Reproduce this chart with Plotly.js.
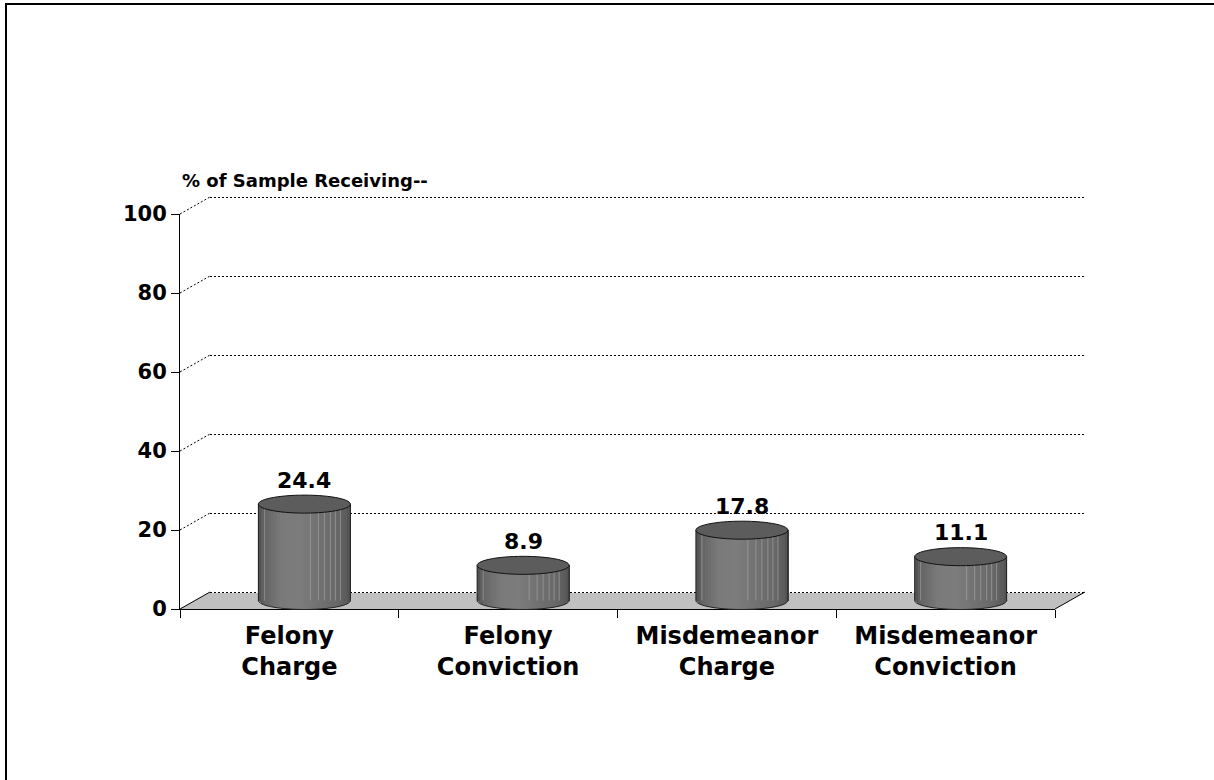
<!DOCTYPE html>
<html><head><meta charset="utf-8">
<script src="https://cdn.plot.ly/plotly-3.0.1.min.js"></script>
<style>html,body{margin:0;padding:0;background:#fff;}#chart{width:1214px;height:780px;}</style>
</head><body><div id="chart"></div>
<script>
// ---- data ----
const categories = ['Felony<br>Charge', 'Felony<br>Conviction', 'Misdemeanor<br>Charge', 'Misdemeanor<br>Conviction'];
const values = [24.4, 8.9, 17.8, 11.1];
const yTicks = [0, 20, 40, 60, 80, 100];
const yTitle = '% of Sample Receiving--';

// ---- geometry (style) ----
const W = 1214, H = 780;
const FX0 = 180, FX1 = 1055, FY0 = 609, FY1 = 214;   // front plane in px
const DX = 30, DY = 17;                               // depth offset in px
const PPX = (FX1 - FX0) / 4, PPY = (FY0 - FY1) / 100;
const fx = px => px / W, fy = py => (H - py) / H;
const RX = 46, RY = 9, NS = 30;
const FONT = 'DejaVu Sans';

// back wall axis (x2/y2), range padded so edge gridlines are drawn
const y2r = [-0.5, 100.5];
const y2dom = [fy(FY0 - DY - y2r[0] * PPY), fy(FY0 - DY - y2r[1] * PPY)];
// mid-plane axis (x3/y3) with extended ranges so pixel shapes are not clipped
const MX0 = FX0 + DX / 2, MY0 = FY0 - DY / 2;
const x3r = [-0.8, 3.8], y3r = [-10, 110];
const x3dom = [fx(MX0 + (x3r[0] + 0.5) * PPX), fx(MX0 + (x3r[1] + 0.5) * PPX)];
const y3dom = [fy(MY0 - y3r[0] * PPY), fy(MY0 - y3r[1] * PPY)];

function shade(t) {
  const pts = [[0, 78], [0.07, 100], [0.25, 122], [0.45, 124], [0.65, 113], [0.85, 104], [0.95, 92], [1, 80]];
  let g = 80;
  for (let k = 0; k < pts.length - 1; k++) {
    if (t >= pts[k][0] && t <= pts[k + 1][0]) {
      const u = (t - pts[k][0]) / (pts[k + 1][0] - pts[k][0]);
      g = pts[k][1] + u * (pts[k + 1][1] - pts[k][1]); break;
    }
  }
  g = Math.round(g);
  return `rgb(${g},${g},${g})`;
}
const ell = x => RY * Math.sqrt(Math.max(0, 1 - (x / RX) * (x / RX)));

const traces = [];
// invisible traces to define the front and back subplots
traces.push({type: 'scatter', x: categories, y: values, mode: 'markers', marker: {opacity: 0},
  hoverinfo: 'skip', showlegend: false, xaxis: 'x', yaxis: 'y'});
traces.push({type: 'scatter', x: [0], y: [0], mode: 'markers', marker: {opacity: 0},
  hoverinfo: 'skip', showlegend: false, xaxis: 'x2', yaxis: 'y2'});

const shapes = [];
const xIdx = values.map((v, i) => i);
const sw = 2 * RX / NS;
// floor
shapes.push({type: 'path', xref: 'x3', yref: 'y3', xsizemode: 'pixel', ysizemode: 'pixel',
  xanchor: -0.5, yanchor: 0, layer: 'below',
  path: `M${-DX/2},${-DY/2} L${FX1-FX0-DX/2},${-DY/2} L${FX1-FX0+DX/2-2},${DY/2-1} L${DX/2-2},${DY/2-1} Z`,
  fillcolor: '#c0c0c0', line: {width: 0}});
// floor right edge
shapes.push({type: 'path', xref: 'x3', yref: 'y3', xsizemode: 'pixel', ysizemode: 'pixel',
  xanchor: -0.5, yanchor: 0, path: `M${FX1-FX0-DX/2},${-DY/2} L${FX1-FX0+DX/2},${DY/2}`,
  line: {color: '#000', width: 1}});
// left wall connectors
yTicks.forEach(v => {
  shapes.push({type: 'path', xref: 'x3', yref: 'y3', xsizemode: 'pixel', ysizemode: 'pixel',
    xanchor: -0.5, yanchor: v, path: `M${-DX/2},${-DY/2} L${DX/2},${DY/2}`,
    line: {color: '#000', width: 1, dash: v === 0 ? 'solid' : '2px,2px'}});
});

// cylinder bodies: vertical strips as bars
for (let s = 0; s < NS; s++) {
  const xa = -RX + s * sw;
  const col = shade((s + 0.5) / NS);
  traces.push({type: 'bar', x: xIdx, y: values, base: 0, xaxis: 'x3', yaxis: 'y3',
    width: (sw + 0.8) / PPX, offset: xa / PPX,
    marker: {color: col, line: {width: 0}}, hoverinfo: 'skip', showlegend: false});
  values.forEach((v, i) => {
    const xb = xa + sw;
    shapes.push({type: 'path', xref: 'x3', yref: 'y3', xsizemode: 'pixel', ysizemode: 'pixel',
      xanchor: i, yanchor: 0,
      path: `M${xa},0.5 L${xb + 0.7},0.5 L${xb + 0.7},${-ell(Math.min(xb, RX))} L${xa},${-ell(xa)} Z`,
      fillcolor: col, line: {width: 0}});
  });
}
// light stripes
const stripePos = [-40, 6, 14, 20, 26, 31, 36];
values.forEach((v, i) => {
  stripePos.forEach(p => {
    shapes.push({type: 'line', xref: 'x3', yref: 'y3', xsizemode: 'pixel', ysizemode: 'scaled',
      xanchor: i, x0: p, x1: p, y0: 0, y1: v, line: {color: 'rgba(170,170,170,0.6)', width: 1}});
  });
  // bottom arc outline
  let arc = '';
  for (let k = 0; k <= 40; k++) {
    const a = Math.PI + Math.PI * k / 40;
    arc += (k === 0 ? 'M' : 'L') + (RX * Math.cos(a)).toFixed(2) + ',' + (RY * Math.sin(a)).toFixed(2) + ' ';
  }
  shapes.push({type: 'path', xref: 'x3', yref: 'y3', xsizemode: 'pixel', ysizemode: 'pixel',
    xanchor: i, yanchor: 0, path: arc, line: {color: '#222', width: 1}});
  // sides
  [-RX, RX].forEach(p => {
    shapes.push({type: 'line', xref: 'x3', yref: 'y3', xsizemode: 'pixel', ysizemode: 'scaled',
      xanchor: i, x0: p, x1: p, y0: 0, y1: v, line: {color: '#222', width: 1}});
  });
  // top ellipse
  let el = '';
  for (let k = 0; k < 60; k++) {
    const a = 2 * Math.PI * k / 60;
    el += (k === 0 ? 'M' : 'L') + (RX * Math.cos(a)).toFixed(2) + ',' + (RY * Math.sin(a)).toFixed(2) + ' ';
  }
  el += 'Z';
  shapes.push({type: 'path', xref: 'x3', yref: 'y3', xsizemode: 'pixel', ysizemode: 'pixel',
    xanchor: i, yanchor: v, path: el, fillcolor: '#5c5c5c', line: {color: '#111', width: 1}});
});

// page border (left and top)
shapes.push({type: 'line', xref: 'paper', yref: 'paper', x0: fx(6), x1: fx(6), y0: 0, y1: fy(3), line: {color: '#000', width: 2}});
shapes.push({type: 'line', xref: 'paper', yref: 'paper', x0: fx(5), x1: 1, y0: fy(4), y1: fy(4), line: {color: '#000', width: 2}});

const annotations = values.map((v, i) => ({
  xref: 'x3', yref: 'y3', x: i, y: v, yshift: 24, showarrow: false,
  text: v.toFixed(1), font: {family: FONT, size: 22, color: '#000', weight: 'bold'}
}));
annotations.push({xref: 'paper', yref: 'paper', x: fx(180), y: fy(181), xanchor: 'left', yanchor: 'middle',
  showarrow: false, text: yTitle, font: {family: FONT, size: 18, color: '#000', weight: 'bold'}});

const layout = {
  width: W, height: H, margin: {l: 0, r: 0, t: 0, b: 0},
  paper_bgcolor: '#fff', plot_bgcolor: 'rgba(0,0,0,0)',
  showlegend: false, barmode: 'overlay', bargap: 0,
  xaxis: {type: 'category', domain: [fx(FX0), fx(FX1)], range: [-0.5, 3.5], fixedrange: true,
    showline: true, linecolor: '#000', linewidth: 1, ticks: 'outside', tickson: 'boundaries',
    ticklen: 8, tickcolor: '#000', showgrid: false, zeroline: false, ticklabelstandoff: 5,
    tickfont: {family: FONT, size: 24, color: '#000', weight: 'bold'}, anchor: 'y'},
  yaxis: {domain: [fy(FY0), fy(FY1)], range: [0, 100], fixedrange: true, tickvals: yTicks,
    showline: true, linecolor: '#000', linewidth: 1, ticks: 'outside', ticklen: 8, tickcolor: '#000',
    showgrid: false, zeroline: false, tickfont: {family: FONT, size: 21, color: '#000', weight: 'bold'}, anchor: 'x'},
  xaxis2: {domain: [fx(FX0 + DX), fx(FX1 + DX)], range: [-0.5, 3.5], fixedrange: true,
    showline: false, showgrid: false, zeroline: false, showticklabels: false, ticks: '', anchor: 'y2'},
  yaxis2: {domain: y2dom, range: y2r, fixedrange: true,
    tickvals: yTicks, showgrid: true, griddash: '2px,2px', gridcolor: '#000', gridwidth: 1,
    showline: false, zeroline: false, showticklabels: false, ticks: '', anchor: 'x2'},
  xaxis3: {domain: x3dom, range: x3r, fixedrange: true, visible: false, anchor: 'y3'},
  yaxis3: {domain: y3dom, range: y3r, fixedrange: true, visible: false, anchor: 'x3'},
  shapes: shapes, annotations: annotations
};
Plotly.newPlot('chart', traces, layout, {displayModeBar: false, staticPlot: true});
</script></body></html>
